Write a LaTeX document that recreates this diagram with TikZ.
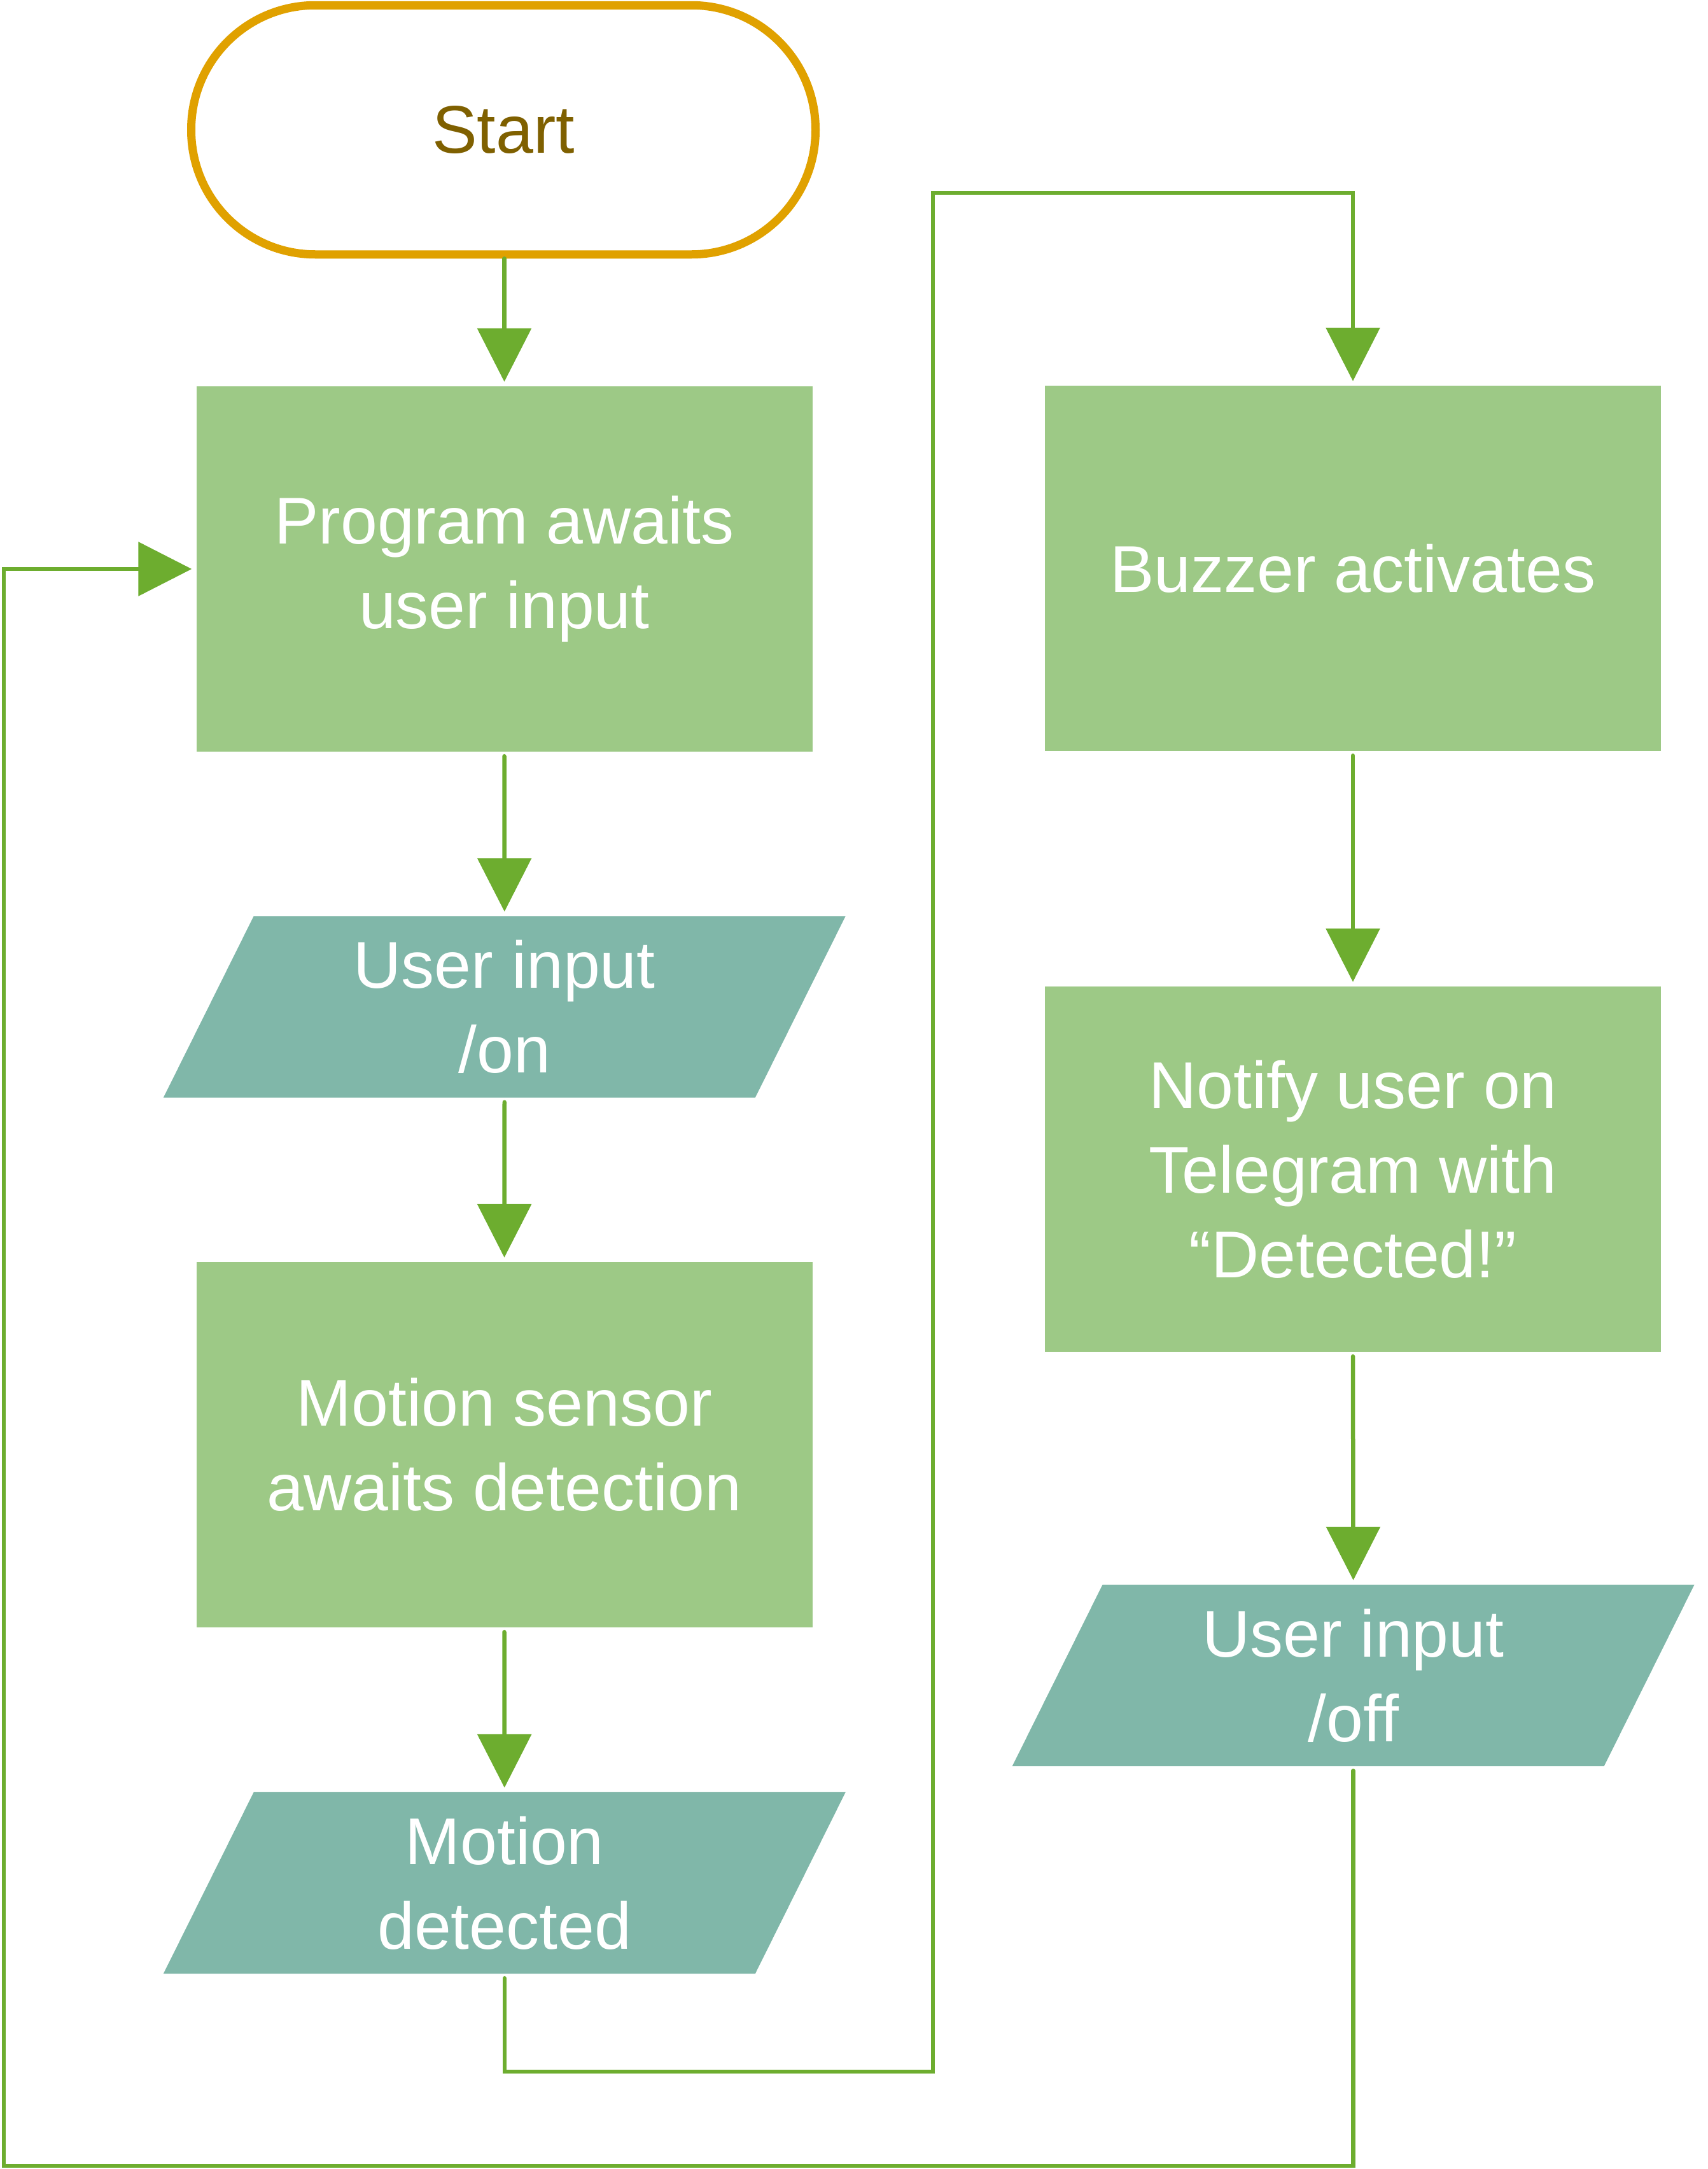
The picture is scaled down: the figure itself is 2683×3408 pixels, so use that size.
\documentclass[tikz,border=0pt]{standalone}
\usepackage{fontspec}
\setmainfont{Liberation Sans}
\usetikzlibrary{arrows.meta,backgrounds}
\definecolor{startline}{HTML}{E0A100}
\definecolor{starttext}{HTML}{7F6000}
\definecolor{conn}{HTML}{6DAD2F}
\definecolor{procfill}{HTML}{9DC986}
\definecolor{iofill}{HTML}{80B7A9}
\begin{document}
\begin{tikzpicture}[x=1pt,y=-1pt,
  txt/.style={font=\fontsize{104pt}{133pt}\selectfont, text=white, align=center, inner sep=0pt},
  proc/.style={txt, fill=procfill, minimum width=968pt, minimum height=574pt},
  io/.style={txt, minimum width=600pt, minimum height=285pt},
  term/.style={draw=startline, line width=13pt, fill=white, rounded corners=195pt,
    minimum width=981pt, minimum height=391.5pt, inner sep=0pt,
    font=\fontsize{106pt}{133pt}\selectfont, text=starttext},
  flow/.style={draw=conn, line width=6.5pt, line cap=round,
    -{Triangle[length=84pt,width=84pt]}, shorten <=7pt, shorten >=7pt}
]
\useasboundingbox (0,0) rectangle (2683,3408);

\node[term] (start) at (791,204) {Start};
\node[proc] (b1) at (792.5,894) {Program awaits\\user input};
\node[io] (i1) at (792.75,1582) {User input\\/on};
\node[proc] (b2) at (792.5,2270) {Motion sensor\\awaits detection};
\node[io] (i2) at (792.75,2958.5) {Motion\\detected};
\node[proc] (b3) at (2126,893) {Buzzer activates};
\node[proc] (b4) at (2126,1837) {Notify user on\\Telegram with\\“Detected!”};
\node[io] (i3) at (2126.6,2632.5) {User input\\/off};

\begin{scope}[on background layer]
\foreach \n in {i1,i2,i3}
  \fill[iofill] ([xshift=-394pt]\n.north) -- ([xshift=536pt]\n.north)
    -- ([xshift=394pt]\n.south) -- ([xshift=-536pt]\n.south) -- cycle;
\end{scope}

\coordinate (c1) at (1466,3255);
\coordinate (c2) at (1466,303);
\coordinate (c3) at (6,3403);

\draw[flow, shorten <=0pt] (start.south -| b1.north) -- (b1.north);
\draw[flow] (b1.south) -- (i1.north);
\draw[flow] (i1.south) -- (b2.north);
\draw[flow] (b2.south) -- (i2.north);
\draw[flow] (i2.south) -- (i2.south |- c1) -- (c1) -- (c2) -- (c2 -| b3.north) -- (b3.north);
\draw[flow] (b3.south) -- (b4.north);
\draw[flow] (b4.south) -- (i3.north);
\draw[flow] (i3.south) -- (i3.south |- c3) -- (c3) -- (c3 |- b1.west) -- (b1.west);
\end{tikzpicture}
\end{document}
